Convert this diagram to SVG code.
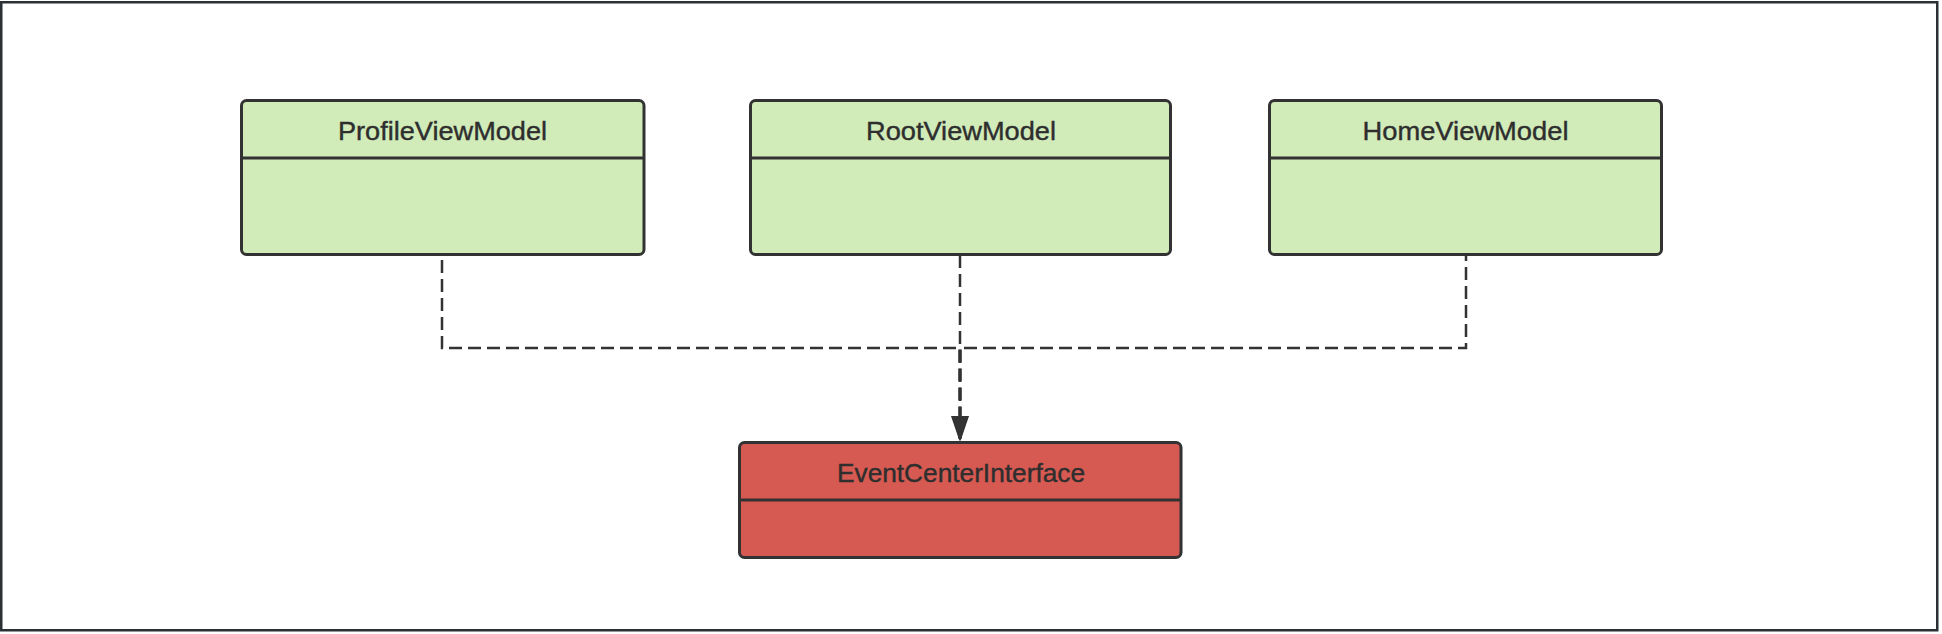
<svg xmlns="http://www.w3.org/2000/svg" width="1942" height="634" viewBox="0 0 1942 634">
  <style>
    .frame { fill: #ffffff; stroke: #2b3034; stroke-width: 2.5; }
    .box { stroke: #323232; stroke-width: 3; }
    .green { fill: #d1ebb9; }
    .red { fill: #d65a52; }
    .div { stroke: #323232; stroke-width: 3; fill: none; }
    .title { font-family: "Liberation Sans", Arial, sans-serif; font-size: 26px; fill: #2e2e2e; text-anchor: middle; stroke: #2e2e2e; stroke-width: 0.4; }
    .conn { fill: none; stroke: #333333; stroke-width: 2.5; stroke-dasharray: 13 6; }
  </style>
  <defs>
    <marker id="arrow" markerUnits="userSpaceOnUse" markerWidth="25" markerHeight="17" refX="25" refY="8.5" viewBox="0 0 25 17" orient="auto">
      <path d="M0,0 L25,8.5 L0,17 Z" fill="#333333"/>
    </marker>
  </defs>
  <rect class="frame" x="1.25" y="2.25" width="1936" height="628"/>

  <g id="connectors">
    <path class="conn" d="M442,255 V348 H960.5 V441" stroke-dashoffset="14" marker-end="url(#arrow)"/>
    <path class="conn" d="M960,255 V441" marker-end="url(#arrow)"/>
    <path class="conn" d="M1466,255 V348 H959.5 V441" stroke-dashoffset="7" marker-end="url(#arrow)"/>
  </g>

  <g id="ProfileViewModel">
    <rect class="box green" x="241.5" y="100.5" width="402.5" height="154" rx="5"/>
    <line class="div" x1="241.5" y1="158" x2="644" y2="158"/>
    <text class="title" x="442.5" y="140" textLength="209" lengthAdjust="spacingAndGlyphs">ProfileViewModel</text>
  </g>

  <g id="RootViewModel">
    <rect class="box green" x="750.5" y="100.5" width="420" height="154" rx="5"/>
    <line class="div" x1="750.5" y1="158" x2="1170.5" y2="158"/>
    <text class="title" x="961" y="140" textLength="190" lengthAdjust="spacingAndGlyphs">RootViewModel</text>
  </g>

  <g id="HomeViewModel">
    <rect class="box green" x="1269.5" y="100.5" width="392" height="154" rx="5"/>
    <line class="div" x1="1269.5" y1="158" x2="1661.5" y2="158"/>
    <text class="title" x="1465.5" y="140" textLength="206" lengthAdjust="spacingAndGlyphs">HomeViewModel</text>
  </g>

  <g id="EventCenterInterface">
    <rect class="box red" x="739.5" y="442.5" width="441.5" height="115" rx="5"/>
    <line class="div" x1="739.5" y1="500" x2="1181" y2="500"/>
    <text class="title" x="961" y="482" textLength="248" lengthAdjust="spacingAndGlyphs">EventCenterInterface</text>
  </g>
</svg>
